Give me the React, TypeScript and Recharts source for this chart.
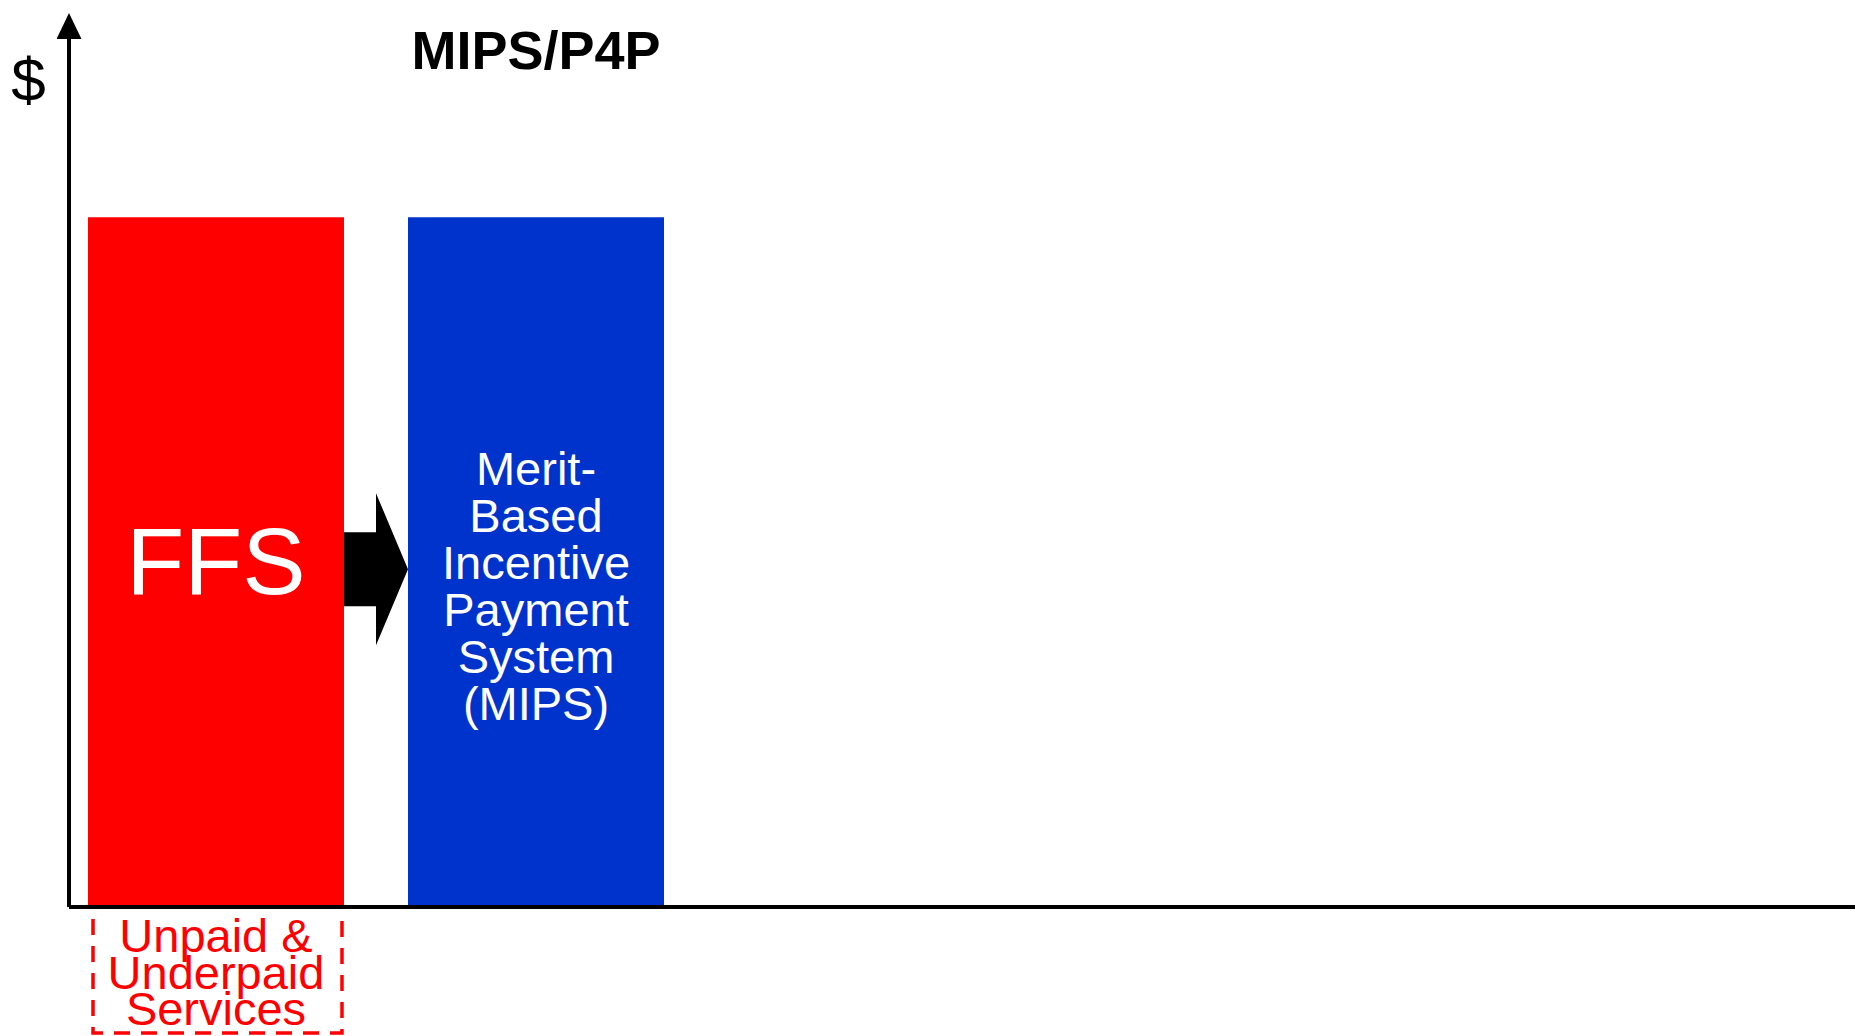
import { Bar, BarChart, LabelList, XAxis, YAxis, Label } from "recharts";

const stages = ["FFS", "MIPS"];
const stageValues = [100, 100];
const stageColors = ["#ff0000", "#0033cc"];
const chartTitle = "MIPS/P4P";
const yAxisLabel = "$";
const mipsLines = ["Merit-", "Based", "Incentive", "Payment", "System", "(MIPS)"];
const gapLines = ["Unpaid &", "Underpaid", "Services"];

const row: Record<string, string | number> = { period: "now" };
stages.forEach((s, i) => {
  row[s] = stageValues[i];
});
const data = [row];

const FONT = "'Liberation Sans', Arial, Helvetica, sans-serif";
const BAR_SIZE = 256;
const BAR_GAP = 64;

function getBox(props: any) {
  const vb = props.viewBox ?? props;
  return { x: Number(vb.x), y: Number(vb.y), w: Number(vb.width), h: Number(vb.height) };
}

// FFS name, the arrow into the next bar, and the dashed "unpaid" box under the bar
function FfsLabel(props: any) {
  const { x, y, w, h } = getBox(props);
  const cx = x + w / 2;
  const cy = y + h / 2;
  const right = x + w;
  const bottom = y + h;
  const neck = right + BAR_GAP / 2;
  const arrow = [
    [right, cy - 30],
    [neck, cy - 30],
    [neck, cy - 69],
    [right + BAR_GAP, cy + 7],
    [neck, cy + 83],
    [neck, cy + 44],
    [right, cy + 44],
  ]
    .map((p) => p.join(","))
    .join(" ");
  const boxL = x + 5;
  const boxR = right - 2;
  const boxB = bottom + 126;
  return (
    <g>
      <text x={cx} y={cy + 32} textAnchor="middle" fill="#ffffff" fontSize={95} fontFamily={FONT}>
        {stages[0]}
      </text>
      <polygon points={arrow} fill="#000000" />
      <path
        d={`M${boxL},${bottom + 12} L${boxL},${boxB} L${boxR},${boxB} L${boxR},${bottom + 12}`}
        fill="none"
        stroke="#ff0000"
        strokeWidth={3.5}
        strokeDasharray="16 11"
      />
      <text textAnchor="middle" fill="#ff0000" fontSize={47} fontFamily={FONT}>
        {gapLines.map((line, i) => (
          <tspan key={line} x={cx} y={bottom + 45 + i * 36.5}>
            {line}
          </tspan>
        ))}
      </text>
    </g>
  );
}

function MipsLabel(props: any) {
  const { x, y, w, h } = getBox(props);
  const cx = x + w / 2;
  const cy = y + h / 2;
  return (
    <g>
      <text x={cx} y={y - 148} textAnchor="middle" fill="#000000" fontSize={54} fontWeight="bold" fontFamily={FONT}>
        {chartTitle}
      </text>
      <text textAnchor="middle" fill="#ffffff" fontSize={47} fontFamily={FONT}>
        {mipsLines.map((line, i) => (
          <tspan key={line} x={cx} y={cy - 77 + i * 47}>
            {line}
          </tspan>
        ))}
      </text>
    </g>
  );
}

function DollarLabel(props: any) {
  const vb = props.viewBox;
  return (
    <text x={vb.x + 28.5} y={vb.y + 63} textAnchor="middle" fill="#000000" fontSize={62} fontFamily={FONT}>
      {yAxisLabel}
    </text>
  );
}

const labelContent = [FfsLabel, MipsLabel];

export default function App() {
  return (
    <div style={{ position: "absolute", left: 0, top: 0, background: "#ffffff" }}>
      <BarChart
        width={1855}
        height={1036}
        data={data}
        barSize={BAR_SIZE}
        barGap={BAR_GAP}
        margin={{ top: 38, right: 0, bottom: 99, left: 0 }}
      >
        <defs>
          <marker
            id="yArrow"
            viewBox="0 0 26 25"
            refX={1}
            refY={12.5}
            markerWidth={26}
            markerHeight={25}
            markerUnits="userSpaceOnUse"
            orient="auto-start-reverse"
          >
            <path d="M0,0 L26,12.5 L0,25 Z" fill="#000000" />
          </marker>
        </defs>

        <XAxis
          dataKey="period"
          type="category"
          tick={false}
          tickLine={false}
          axisLine={{ stroke: "#000000", strokeWidth: 4 }}
          padding={{ left: 0, right: 1172 }}
        />

        <YAxis
          width={69}
          domain={[0, 126]}
          tick={false}
          tickLine={false}
          axisLine={{ stroke: "#000000", strokeWidth: 4, markerStart: "url(#yArrow)" }}
        >
          <Label content={DollarLabel} />
        </YAxis>

        {stages.map((s, i) => (
          <Bar key={s} dataKey={s} fill={stageColors[i]} isAnimationActive={false}>
            <LabelList dataKey={s} content={labelContent[i]} />
          </Bar>
        ))}
      </BarChart>
    </div>
  );
}
